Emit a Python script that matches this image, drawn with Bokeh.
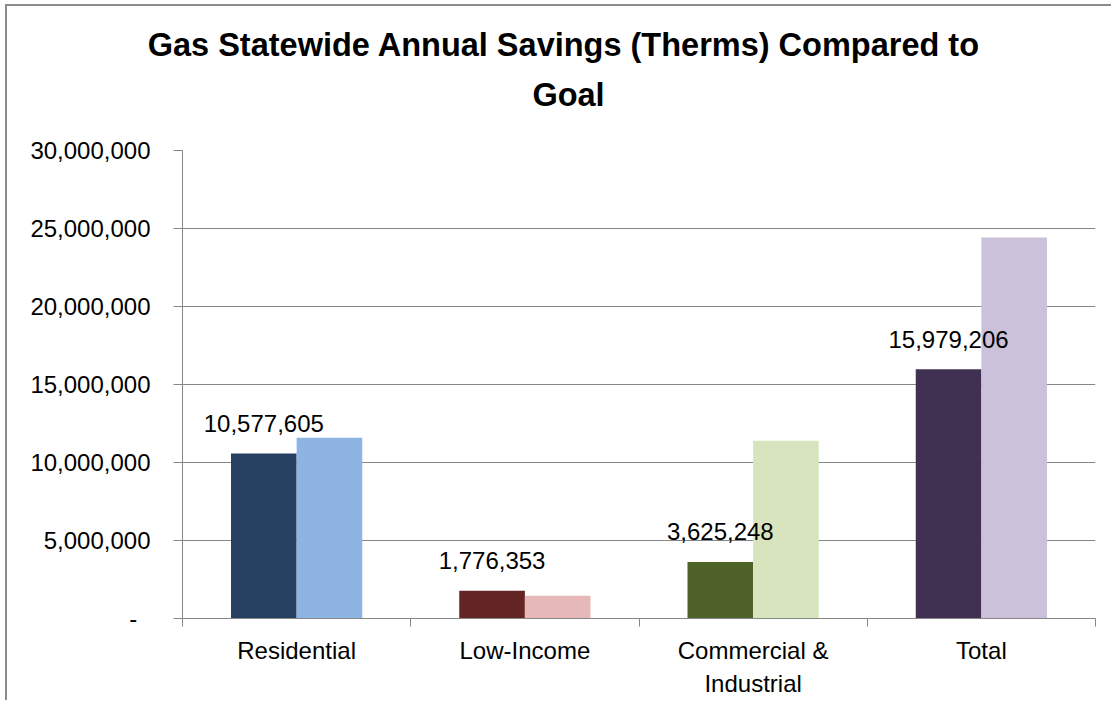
from bokeh.plotting import figure
from bokeh.models import ColumnDataSource, Range1d, FixedTicker, NumeralTickFormatter, Label
from bokeh.transform import dodge
from bokeh.core.properties import value
from bokeh.embed import file_html
from bokeh.resources import INLINE

# ---- data ----
categories = ["Residential", "Low-Income", "Commercial & Industrial", "Total"]
category_labels = ["Residential", "Low-Income", "Commercial &\nIndustrial", "Total"]
actual_savings = [10577605, 1776353, 3625248, 15979206]
goal_savings = [11580000, 1455000, 11390000, 24425000]
actual_colors = ["#254061", "#632523", "#4F6228", "#403152"]
goal_colors = ["#8EB4E3", "#E6B9B8", "#D7E4BD", "#CCC1DA"]
y_ticks = [0, 5000000, 10000000, 15000000, 20000000, 25000000, 30000000]
title_lines = ["Gas Statewide Annual Savings  (Therms) Compared to", "Goal"]

FONT = "Liberation Sans"
GRID = "#868686"
BAR_W = 0.2875
OFF = BAR_W / 2

# ---- layout (pixels, canvas coordinates) ----
TITLE_CENTER_X = 559
TITLE_MIDDLES_Y = [36, 86]

n = len(categories)
slot_centers = [i + 0.5 for i in range(n)]

src = ColumnDataSource(dict(
    cat=categories,
    pos=slot_centers,
    actual=actual_savings,
    goal=goal_savings,
    actual_color=actual_colors,
    goal_color=goal_colors,
    label=[f"{v:,}" for v in actual_savings],
))

p = figure(
    x_range=Range1d(0, n),
    y_range=Range1d(0, y_ticks[-1]),
    frame_width=913, frame_height=468,
    min_border_left=175, min_border_right=16, min_border_top=144, min_border_bottom=40,
    output_backend="svg", toolbar_location=None,
    title=None,
)
p.styles = {"margin-left": "5px", "margin-top": "4px",
            "border-left": "2px solid #8C8C8C", "border-top": "2px solid #8C8C8C"}
p.outline_line_color = None
p.background_fill_color = "white"
p.border_fill_color = "white"

# bars
p.vbar(x=dodge("pos", -OFF), top="actual", width=BAR_W, source=src,
       fill_color="actual_color", line_color=None)
p.vbar(x=dodge("pos", OFF), top="goal", width=BAR_W, source=src,
       fill_color="goal_color", line_color=None)

# data labels on actual bars
p.text(x=dodge("pos", -OFF), y="actual", text="label", source=src,
       text_align="center", text_baseline="middle", y_offset=-30,
       text_font=value(FONT), text_font_size="24px", text_color="black")

# title (two centred bold lines)
for txt, ym in zip(title_lines, TITLE_MIDDLES_Y):
    p.add_layout(Label(x=TITLE_CENTER_X, y=ym, x_units="canvas", y_units="canvas",
                       text=txt, text_align="center", text_baseline="middle",
                       text_font=FONT, text_font_size="32.5px", text_font_style="bold",
                       text_color="black"), "above")

# grid
p.xgrid.visible = False
p.ygrid.ticker = FixedTicker(ticks=y_ticks)
p.ygrid.grid_line_color = GRID
p.ygrid.grid_line_width = 1

# y axis
ya = p.yaxis[0]
ya.ticker = FixedTicker(ticks=y_ticks)
ya.formatter = NumeralTickFormatter(format="0,0")
ya.major_label_overrides = {0: "-\u00a0\u00a0"}
ya.major_tick_out = 9
ya.major_tick_in = 0
ya.minor_tick_line_color = None
ya.axis_line_color = GRID
ya.major_tick_line_color = GRID
ya.major_label_standoff = 23
ya.major_label_text_font = FONT
ya.major_label_text_font_size = "24px"
ya.major_label_text_color = "black"

# category axis with boundary ticks
xa = p.xaxis[0]
xa.ticker = FixedTicker(ticks=slot_centers, minor_ticks=list(range(n + 1)))
xa.major_label_overrides = {c: lab for c, lab in zip(slot_centers, category_labels)}
xa.major_tick_line_color = None
xa.major_tick_out = 0
xa.major_tick_in = 0
xa.minor_tick_out = 8
xa.minor_tick_in = 0
xa.minor_tick_line_color = GRID
xa.axis_line_color = GRID
xa.major_label_standoff = 10
xa.major_label_text_font = FONT
xa.major_label_text_font_size = "24px"
xa.major_label_text_color = "black"
xa.major_label_text_line_height = 1.25

open("out.html", "w").write(file_html(p, INLINE))
